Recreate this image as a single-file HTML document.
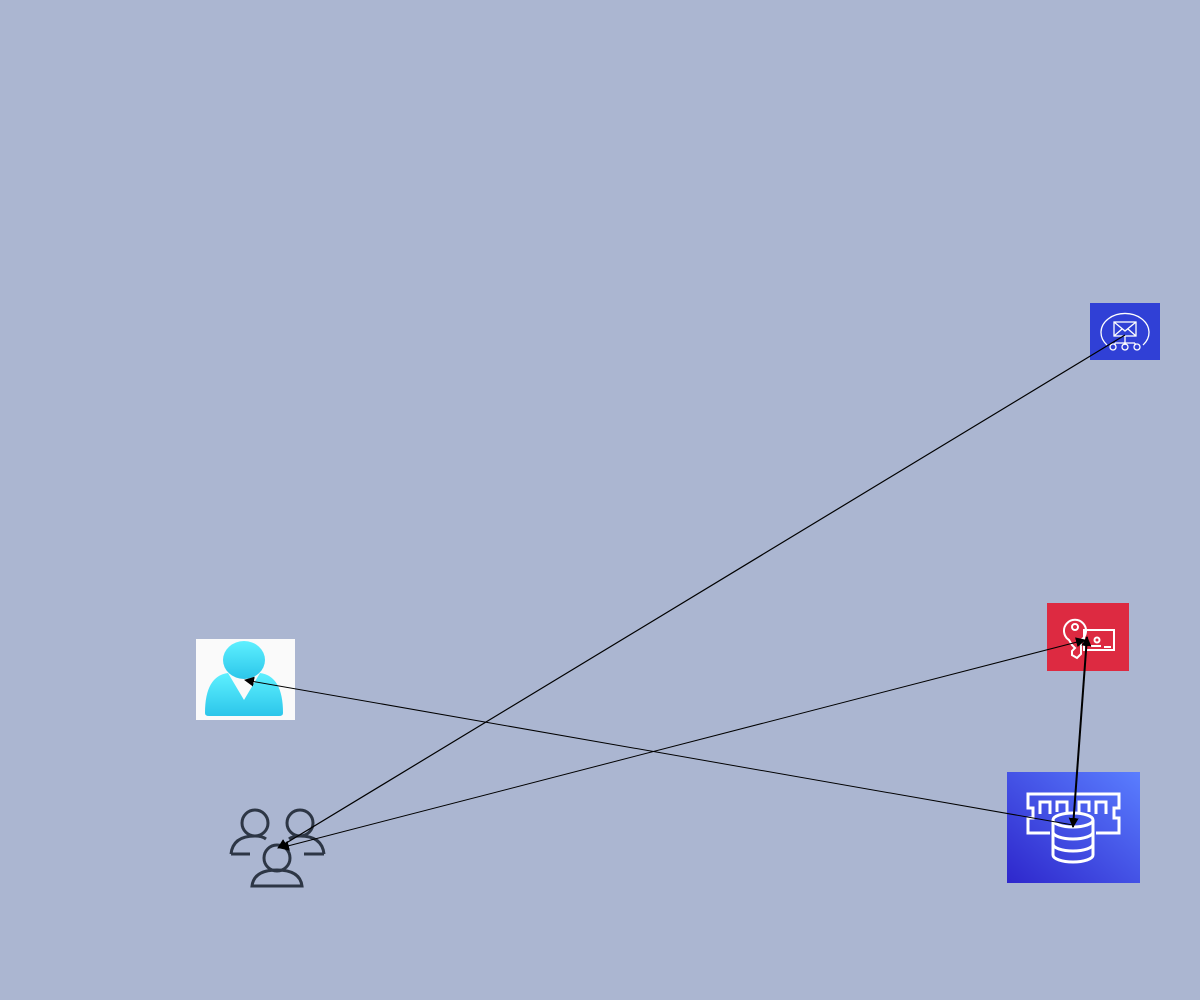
<!DOCTYPE html>
<html><head><meta charset="utf-8"><style>
html,body{margin:0;padding:0;background:#abb6d1;}
svg{display:block}
</style></head><body>
<svg width="1200" height="1000" viewBox="0 0 1200 1000" xmlns="http://www.w3.org/2000/svg">
<defs>
<marker id="b" viewBox="0 0 10 10" refX="9" refY="5" markerWidth="10" markerHeight="10" orient="auto-start-reverse" markerUnits="userSpaceOnUse"><path d="M0,0 L10,5 L0,10 z" fill="#000"/></marker>
<linearGradient id="g1" x1="0" y1="1" x2="1" y2="0"><stop offset="0" stop-color="#2e27cc"/><stop offset="1" stop-color="#5a7eff"/></linearGradient>
<linearGradient id="g2" x1="0" y1="0" x2="0" y2="1"><stop offset="0" stop-color="#5ef0ff"/><stop offset="1" stop-color="#2cc6ea"/></linearGradient>
</defs>
<rect width="1200" height="1000" fill="#abb6d1"/>

<!-- SNS -->
<rect x="1090" y="303" width="70" height="57" fill="#3040d6"/>
<g fill="none" stroke="#fff" stroke-width="1.3">
<path d="M1107,345 A24,19 0 1 1 1143,345"/>
<rect x="1114" y="322" width="22" height="14"/>
<path d="M1114,322 L1125,331 L1136,322 M1114,336 L1122,329 M1136,336 L1128,329"/>
<path d="M1125,336 V343 M1115,343 H1135 M1115,343 V345 M1125,343 V345 M1135,343 V345"/>
<circle cx="1113" cy="347" r="3"/><circle cx="1125" cy="347" r="3"/><circle cx="1137" cy="347" r="3"/>
</g>

<!-- Key card -->
<rect x="1047" y="603" width="82" height="68" fill="#dd2a41"/>
<g fill="none" stroke="#fff" stroke-width="2">
<path d="M1069,640 A11,11 0 1 1 1081,640 V654 L1077,658 L1072,655 V651 L1075,648 L1072,645 Z"/>
<circle cx="1075" cy="627" r="3"/>
<rect x="1084" y="630" width="30" height="20"/>
<circle cx="1097" cy="640" r="2.5"/>
<path d="M1091,646 H1101 M1104,647 H1111"/>
</g>

<!-- DB memory -->
<rect x="1007" y="772" width="133" height="111" fill="url(#g1)"/>
<g fill="none" stroke="#fff" stroke-width="3">
<path d="M1050,833 H1028 V818 H1033 V808 H1028 V794 H1119 V808 H1114 V818 H1119 V833 H1096"/>
<path d="M1040,814 V802 H1050 V814 M1057,812 V802 H1067 V812 M1079,812 V802 H1089 V812 M1096,814 V802 H1106 V814"/>
<ellipse cx="1073" cy="820" rx="20" ry="7"/>
<path d="M1053,820 V855 A20,7 0 0 0 1093,855 V820 M1053,832 A20,7 0 0 0 1093,832 M1053,844 A20,7 0 0 0 1093,844"/>
</g>

<!-- person -->
<rect x="196" y="639" width="99" height="81" fill="#fafafa"/>
<path d="M205,713 Q205,676 228,673 L244,700 L260,673 Q283,676 283,713 Q283,716 279,716 H209 Q205,716 205,713 Z" fill="url(#g2)"/>
<ellipse cx="244" cy="660" rx="21" ry="19" fill="url(#g2)"/>

<!-- users group -->
<g fill="none" stroke="#2d3645" stroke-width="3">
<circle cx="255" cy="823" r="13"/>
<path d="M231,854 Q233,836 255,836 Q262,836 266,839 M231,854 H250"/>
<circle cx="300" cy="823" r="13"/>
<path d="M324,854 Q322,836 300,836 Q293,836 289,839 M324,854 H304"/>
<circle cx="277" cy="858" r="13"/>
<path d="M252,886 Q254,870 277,870 Q300,870 302,886 Z"/>
</g>

<!-- edges -->
<g stroke="#000" fill="none">
<line x1="1125" y1="335" x2="278" y2="848" stroke-width="1.2" marker-end="url(#b)"/>
<line x1="1085" y1="640" x2="280" y2="848" stroke-width="1" marker-end="url(#b)" marker-start="url(#b)"/>
<line x1="1087" y1="637" x2="1073" y2="827" stroke-width="2" marker-end="url(#b)" marker-start="url(#b)"/>
<line x1="1073" y1="825" x2="245" y2="680" stroke-width="1" marker-end="url(#b)"/>
</g>
</svg>
</body></html>
